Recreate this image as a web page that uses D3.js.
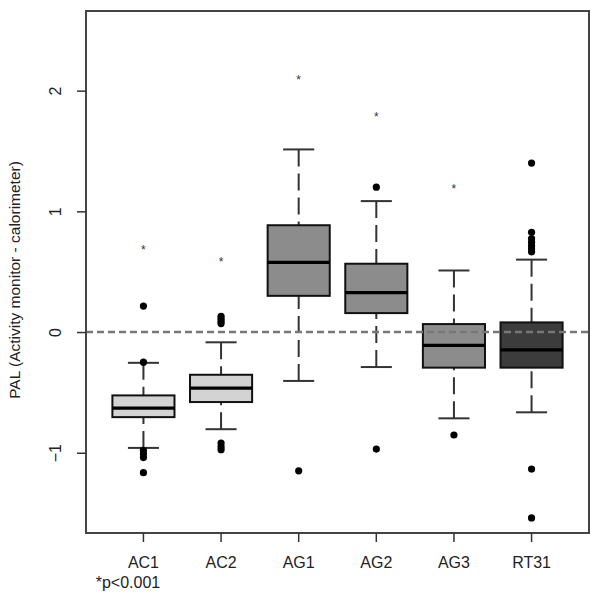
<!DOCTYPE html>
<html>
<head>
<meta charset="utf-8">
<script src="https://cdn.jsdelivr.net/npm/d3@7"></script>
<style>
  html, body { margin: 0; padding: 0; background: #fff; }
  svg { display: block; font-family: "Liberation Sans", Arial, sans-serif; }
</style>
</head>
<body>
<svg id="chart" width="600" height="601"></svg>
<script>
// ---- Data ----
const categories   = ["AC1", "AC2", "AG1", "AG2", "AG3", "RT31"];
const whiskerLow   = [-0.96, -0.805, -0.405, -0.29, -0.715, -0.665];
const q1           = [-0.705, -0.58, 0.30, 0.157, -0.295, -0.295];
const medians      = [-0.63, -0.465, 0.577, 0.326, -0.11, -0.147];
const q3           = [-0.525, -0.354, 0.885, 0.566, 0.066, 0.08];
const whiskerHigh  = [-0.255, -0.085, 1.513, 1.085, 0.51, 0.60];
const outliers     = [
  [0.215, -0.25, -0.98, -1.01, -1.04, -1.165],
  [0.13, 0.11, 0.09, 0.07, -0.92, -0.95, -0.975],
  [-1.15],
  [1.20, -0.97],
  [-0.853],
  [1.40, 0.826, 0.775, 0.745, 0.715, 0.69, 0.665, -1.135, -1.54]
];
const starValues   = [0.70, 0.60, 2.107, 1.80, 1.20, null];
const fills        = ["#d3d3d3", "#d3d3d3", "#8c8c8c", "#8c8c8c", "#8c8c8c", "#3c3c3c"];
const yTicks       = [-1, 0, 1, 2];
const yTitle       = "PAL (Activity monitor - calorimeter)";
const footnote     = "*p<0.001";

// ---- Layout ----
const mLeft = 86, mRight = 589, mTop = 11, mBottom = 533;
const svg = d3.select("#chart");

const x = d3.scaleBand()
  .domain(categories)
  .range([mLeft, mRight])
  .paddingInner(0.2)
  .paddingOuter(0.34);
const y = d3.scaleLinear().domain([-1.665, 2.66]).range([mBottom, mTop]);

const bw = x.bandwidth();
const cx = c => x(c) + bw / 2;

// ---- Boxes ----
const g = svg.append("g");
categories.forEach((c, i) => {
  const xc = cx(c);
  g.append("line")
    .attr("x1", xc).attr("x2", xc)
    .attr("y1", y(whiskerHigh[i])).attr("y2", y(q3[i]))
    .attr("stroke", "#333").attr("stroke-width", 2)
    .attr("stroke-dasharray", "17,7");
  g.append("line")
    .attr("x1", xc).attr("x2", xc)
    .attr("y1", y(whiskerLow[i])).attr("y2", y(q1[i]))
    .attr("stroke", "#333").attr("stroke-width", 2)
    .attr("stroke-dasharray", "17,7");
  [whiskerHigh[i], whiskerLow[i]].forEach(v => {
    g.append("line")
      .attr("x1", xc - bw / 4).attr("x2", xc + bw / 4)
      .attr("y1", y(v)).attr("y2", y(v))
      .attr("stroke", "#333").attr("stroke-width", 2);
  });
  g.append("rect")
    .attr("x", x(c)).attr("width", bw)
    .attr("y", y(q3[i])).attr("height", y(q1[i]) - y(q3[i]))
    .attr("fill", fills[i]).attr("stroke", "#111").attr("stroke-width", 2);
  g.append("line")
    .attr("x1", x(c)).attr("x2", x(c) + bw)
    .attr("y1", y(medians[i])).attr("y2", y(medians[i]))
    .attr("stroke", "#000").attr("stroke-width", 3.2);
  outliers[i].forEach(v => {
    g.append("circle")
      .attr("cx", xc).attr("cy", y(v)).attr("r", 3.6)
      .attr("fill", "#000");
  });
  if (starValues[i] !== null) {
    g.append("text")
      .attr("x", xc).attr("y", y(starValues[i]))
      .attr("dy", "0.5em")
      .attr("text-anchor", "middle")
      .attr("font-size", 12)
      .attr("fill", "#333")
      .text("*");
  }
});

// ---- Zero reference line (on top) ----
svg.append("line")
  .attr("x1", mLeft).attr("x2", mRight)
  .attr("y1", y(0)).attr("y2", y(0))
  .attr("stroke", "#777").attr("stroke-width", 2.5)
  .attr("stroke-dasharray", "7,4");

// ---- Frame ----
svg.append("rect")
  .attr("x", mLeft).attr("y", mTop)
  .attr("width", mRight - mLeft).attr("height", mBottom - mTop)
  .attr("fill", "none").attr("stroke", "#444").attr("stroke-width", 2);

// ---- Axes ----
const yAxis = svg.append("g")
  .attr("transform", `translate(${mLeft},0)`)
  .call(d3.axisLeft(y).tickValues(yTicks).tickSize(9).tickFormat(d3.format("d")));
yAxis.select(".domain").remove();
yAxis.selectAll(".tick line").attr("stroke", "#333").attr("stroke-width", 1.5);
yAxis.selectAll(".tick text")
  .attr("x", null).attr("dy", null)
  .attr("transform", "translate(-25,0) rotate(-90)")
  .attr("text-anchor", "middle")
  .attr("font-size", 16)
  .attr("font-family", "Liberation Sans, Arial, sans-serif")
  .attr("fill", "#222");

const xAxis = svg.append("g")
  .attr("transform", `translate(0,${mBottom})`)
  .call(d3.axisBottom(x).tickSize(9));
xAxis.select(".domain").remove();
xAxis.selectAll(".tick line").attr("stroke", "#333").attr("stroke-width", 1.5);
xAxis.selectAll(".tick text")
  .attr("y", 24)
  .attr("dy", "0.71em")
  .attr("font-size", 16)
  .attr("font-family", "Liberation Sans, Arial, sans-serif")
  .attr("fill", "#222");

svg.append("text")
  .attr("x", 128).attr("y", 588)
  .attr("text-anchor", "middle")
  .attr("font-size", 16)
  .attr("fill", "#222")
  .text(footnote);

svg.append("text")
  .attr("transform", "translate(20,280) rotate(-90)")
  .attr("text-anchor", "middle")
  .attr("font-size", 15.5)
  .attr("fill", "#222")
  .text(yTitle);
</script>
</body>
</html>
